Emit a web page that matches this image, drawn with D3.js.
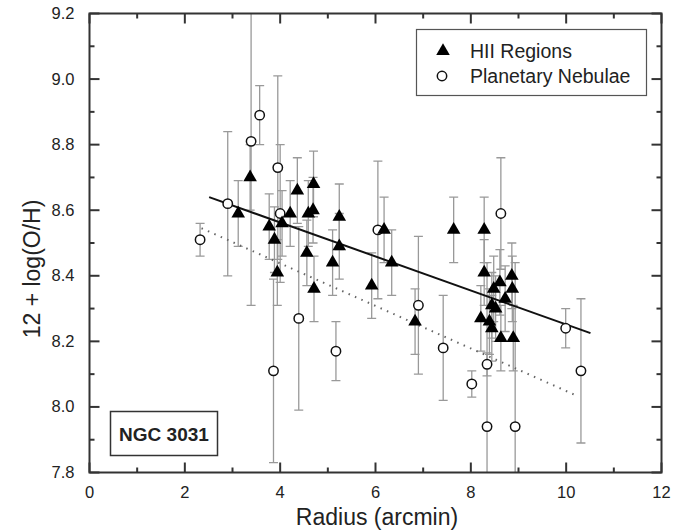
<!DOCTYPE html>
<html>
<head>
<meta charset="utf-8">
<script src="https://cdn.jsdelivr.net/npm/d3@7"></script>
<style>
  body { margin: 0; background: #fff; }
  svg text { font-family: "Liberation Sans", Arial, sans-serif; fill: #222; }
</style>
</head>
<body>
<div class="canvas"></div>
<script>
// HII regions: radius (arcmin), 12+log(O/H), error
const hiiR   = [3.12, 3.37, 3.77, 3.88, 3.94, 4.04, 4.21, 4.36, 4.56, 4.59, 4.69, 4.70, 4.71,
                5.10, 5.24, 5.24, 5.92, 6.18, 6.34, 6.83, 7.64, 8.28, 8.28, 8.21, 8.39, 8.44,
                8.44, 8.48, 8.52, 8.61, 8.63, 8.72, 8.86, 8.87, 8.89];
const hiiOH  = [8.59, 8.70, 8.55, 8.51, 8.41, 8.56, 8.59, 8.66, 8.47, 8.59, 8.60, 8.68, 8.36,
                8.44, 8.58, 8.49, 8.37, 8.54, 8.44, 8.26, 8.54, 8.54, 8.41, 8.27, 8.26, 8.24,
                8.31, 8.36, 8.30, 8.38, 8.21, 8.33, 8.40, 8.36, 8.21];
const hiiErr = [0.1, 0.1, 0.1, 0.1, 0.1, 0.1, 0.1, 0.1, 0.1, 0.1, 0.1, 0.1, 0.1,
                0.1, 0.1, 0.1, 0.1, 0.1, 0.1, 0.1, 0.1, 0.1, 0.1, 0.1, 0.1, 0.1,
                0.1, 0.1, 0.1, 0.1, 0.1, 0.1, 0.1, 0.1, 0.1];

// Planetary nebulae
const pnR   = [2.32, 2.90, 3.39, 3.57, 3.86, 3.95, 4.00, 4.39, 5.17, 6.05, 6.90, 7.42,
               8.02, 8.34, 8.34, 8.63, 8.93, 9.99, 10.31];
const pnOH  = [8.51, 8.62, 8.81, 8.89, 8.11, 8.73, 8.59, 8.27, 8.17, 8.54, 8.31, 8.18,
               8.07, 8.13, 7.94, 8.59, 7.94, 8.24, 8.11];
const pnErr = [0.05, 0.22, 0.50, 0.09, 0.28, 0.28, 0.21, 0.28, 0.09, 0.21, 0.21, 0.16,
               0.04, 0.035, 0.50, 0.17, 0.50, 0.06, 0.22];

// linear fits (end points)
const fitHII = [[2.51, 8.64], [10.51, 8.225]];
const fitPN  = [[2.35, 8.545], [10.24, 8.033]];

const xTicks = [0, 2, 4, 6, 8, 10, 12];
const yTicks = [7.8, 8.0, 8.2, 8.4, 8.6, 8.8, 9.0, 9.2];

const W = 699, H = 532;
const plot = { left: 89.5, right: 661.5, top: 13.5, bottom: 472.5 };

const svg = d3.select('.canvas')
    .append('svg')
    .attr('width', W)
    .attr('height', H);

const x = d3.scaleLinear().domain([0, 12]).range([plot.left, plot.right]);
const y = d3.scaleLinear().domain([7.8, 9.2]).range([plot.bottom, plot.top]);

svg.append('clipPath').attr('id', 'clip')
    .append('rect')
    .attr('x', plot.left).attr('y', plot.top)
    .attr('width', plot.right - plot.left)
    .attr('height', plot.bottom - plot.top);

const hii = hiiR.map((r, i) => ({ r, oh: hiiOH[i], e: hiiErr[i] }));
const pn = pnR.map((r, i) => ({ r, oh: pnOH[i], e: pnErr[i] }));

const g = svg.append('g').attr('clip-path', 'url(#clip)');

// error bars
const drawErr = data => {
    const eb = g.append('g')
        .attr('stroke', '#999')
        .attr('stroke-width', 1.3)
        .attr('fill', 'none');
    eb.selectAll('path')
        .data(data)
        .enter()
        .append('path')
        .attr('d', d => {
            const cx = x(d.r), y1 = y(d.oh + d.e), y2 = y(d.oh - d.e);
            return `M${cx},${y1}V${y2}M${cx - 4.5},${y1}H${cx + 4.5}M${cx - 4.5},${y2}H${cx + 4.5}`;
        });
};
drawErr(pn);
drawErr(hii);

// fit lines
const line = d3.line().x(d => x(d[0])).y(d => y(d[1]));
g.append('path')
    .attr('d', line(fitHII))
    .attr('stroke', '#111')
    .attr('stroke-width', 2)
    .attr('fill', 'none');
g.append('path')
    .attr('d', line(fitPN))
    .attr('stroke', '#666')
    .attr('stroke-width', 2)
    .attr('stroke-dasharray', '1.5,5.5')
    .attr('fill', 'none');

// markers
const tri = d3.symbol(d3.symbolTriangle, 80);
g.selectAll('circle.pn')
    .data(pn)
    .enter()
    .append('circle')
    .attr('class', 'pn')
    .attr('cx', d => x(d.r))
    .attr('cy', d => y(d.oh))
    .attr('r', 4.7)
    .attr('fill', '#fff')
    .attr('stroke', '#111')
    .attr('stroke-width', 1.5);
g.selectAll('path.hii')
    .data(hii)
    .enter()
    .append('path')
    .attr('class', 'hii')
    .attr('d', tri)
    .attr('transform', d => `translate(${x(d.r)},${y(d.oh)})`)
    .attr('fill', '#000');

// axes with inward ticks, mirrored on top and right
const axes = svg.append('g').attr('stroke', '#333').attr('stroke-width', 2);
const xMinor = d3.range(0, 12.01, 1);
const yMinor = d3.range(7.8, 9.201, 0.1);

xMinor.forEach(v => {
    const len = Math.round(v) % 2 === 0 ? 10 : 5;
    axes.append('line').attr('x1', x(v)).attr('x2', x(v))
        .attr('y1', plot.bottom).attr('y2', plot.bottom - len);
    axes.append('line').attr('x1', x(v)).attr('x2', x(v))
        .attr('y1', plot.top).attr('y2', plot.top + len);
});
yMinor.forEach((v, i) => {
    const len = i % 2 === 0 ? 10 : 5;
    axes.append('line').attr('y1', y(v)).attr('y2', y(v))
        .attr('x1', plot.left).attr('x2', plot.left + len);
    axes.append('line').attr('y1', y(v)).attr('y2', y(v))
        .attr('x1', plot.right).attr('x2', plot.right - len);
});
axes.append('rect')
    .attr('x', plot.left).attr('y', plot.top)
    .attr('width', plot.right - plot.left)
    .attr('height', plot.bottom - plot.top)
    .attr('fill', 'none');

// tick labels
svg.append('g').selectAll('text')
    .data(xTicks)
    .enter()
    .append('text')
    .attr('x', d => x(d))
    .attr('y', plot.bottom + 25)
    .attr('text-anchor', 'middle')
    .attr('font-size', 16.5)
    .text(d => d);
svg.append('g').selectAll('text')
    .data(yTicks)
    .enter()
    .append('text')
    .attr('x', plot.left - 15)
    .attr('y', d => y(d) + 5.5)
    .attr('text-anchor', 'end')
    .attr('font-size', 16.5)
    .text(d => d3.format('.1f')(d));

// axis titles
svg.append('text')
    .attr('x', 377)
    .attr('y', 525)
    .attr('text-anchor', 'middle')
    .attr('font-size', 23)
    .text('Radius (arcmin)');
svg.append('text')
    .attr('transform', 'translate(40,269) rotate(-90)')
    .attr('text-anchor', 'middle')
    .attr('font-size', 23)
    .text('12 + log(O/H)');

// legend
const legend = svg.append('g');
legend.append('rect')
    .attr('x', 416.5).attr('y', 29.5)
    .attr('width', 230).attr('height', 66)
    .attr('fill', '#fff')
    .attr('stroke', '#555')
    .attr('stroke-width', 1.2);
legend.append('path')
    .attr('d', tri)
    .attr('transform', 'translate(443,51)')
    .attr('fill', '#000');
legend.append('circle')
    .attr('cx', 442).attr('cy', 76).attr('r', 4.7)
    .attr('fill', '#fff').attr('stroke', '#111').attr('stroke-width', 1.5);
legend.append('text')
    .attr('x', 470).attr('y', 58)
    .attr('font-size', 19.5)
    .text('HII Regions');
legend.append('text')
    .attr('x', 470).attr('y', 83)
    .attr('font-size', 19.5)
    .text('Planetary Nebulae');

// galaxy label
svg.append('rect')
    .attr('x', 110.5).attr('y', 411.5)
    .attr('width', 107).attr('height', 44)
    .attr('fill', '#fff')
    .attr('stroke', '#333')
    .attr('stroke-width', 1.5);
svg.append('text')
    .attr('x', 164).attr('y', 440.5)
    .attr('text-anchor', 'middle')
    .attr('font-size', 19)
    .attr('font-weight', 'bold')
    .text('NGC 3031');
</script>
</body>
</html>
